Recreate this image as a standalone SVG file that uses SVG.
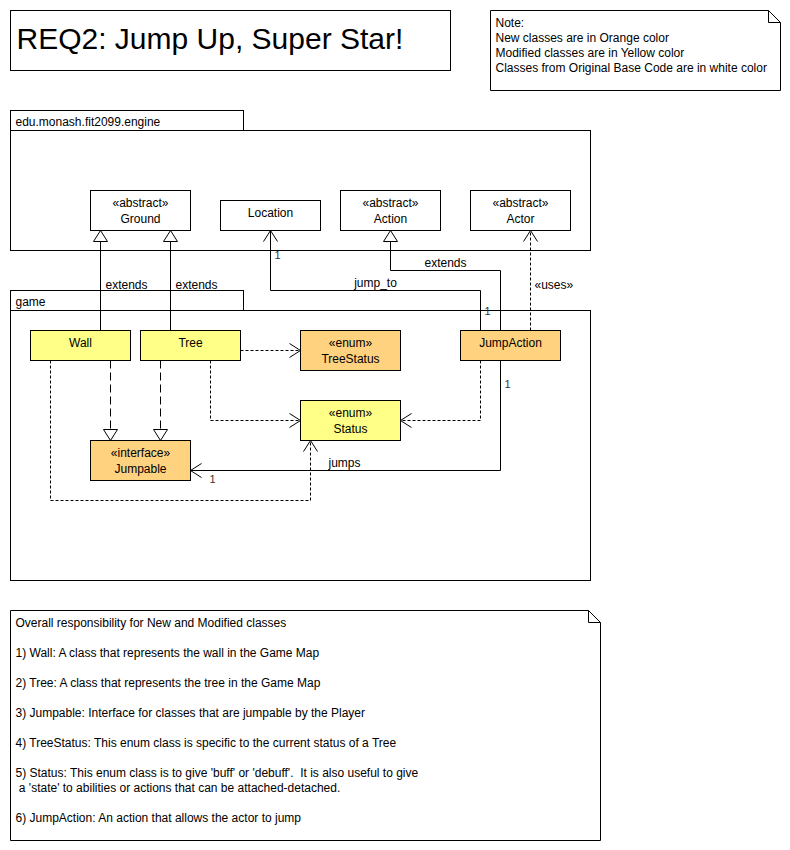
<svg xmlns="http://www.w3.org/2000/svg" width="790" height="850" viewBox="0 0 790 850">
<style>
text{font-family:"Liberation Sans",Arial,Helvetica,sans-serif;font-size:12px;fill:#000}
.c{text-anchor:middle}
.box{fill:#fff;stroke:#000;stroke-width:1}
.mod{fill:#ffff88;stroke:#000;stroke-width:1}
.new{fill:#ffd280;stroke:#000;stroke-width:1}
.ln{fill:none;stroke:#000;stroke-width:1}
.dot{fill:none;stroke:#000;stroke-width:1;stroke-dasharray:3 2}
.dash{fill:none;stroke:#000;stroke-width:1;stroke-dasharray:8 4}
.sm{font-size:12px}
.m{font-size:11px;fill:#333}
</style>
<defs>
<marker id="open" markerUnits="userSpaceOnUse" markerWidth="14" markerHeight="18" viewBox="0 0 14 18" refX="12" refY="9" orient="auto">
<path d="M1,2 L12,9 L1,16" fill="none" stroke="#000" stroke-width="1"/>
</marker>
<marker id="tri" markerUnits="userSpaceOnUse" markerWidth="14" markerHeight="18" viewBox="0 0 14 18" refX="12" refY="9" orient="auto">
<path d="M1,2 L12,9 L1,16 Z" fill="#fff" stroke="#000" stroke-width="1"/>
</marker>
</defs>
<rect width="790" height="850" fill="#fff"/>
<g transform="translate(0.5,0.5)">
<g id="title">
<rect class="box" x="10" y="10" width="440" height="60"/>
<text x="16" y="48" style="font-size:30px">REQ2: Jump Up, Super Star!</text>
</g>
<g id="legend">
<path class="box" d="M490,10 H768 L780,22 V90 H490 Z"/>
<path class="ln" d="M768,10 V22 H780"/>
<text x="495" y="26">Note:</text>
<text x="495" y="41">New classes are in Orange color</text>
<text x="495" y="56">Modified classes are in Yellow color</text>
<text x="495" y="71">Classes from Original Base Code are in white color</text>
</g>
<g id="pkg-engine">
<rect class="box" x="10" y="110" width="233" height="20"/>
<rect class="box" x="10" y="130" width="580" height="120"/>
<text x="15" y="125">edu.monash.fit2099.engine</text>
</g>
<g id="pkg-game">
<rect class="box" x="10" y="290" width="233" height="20"/>
<rect class="box" x="10" y="310" width="580" height="270"/>
<text x="15" y="305">game</text>
</g>
<g id="connectors">
<path class="ln" d="M100,330 V230" marker-end="url(#tri)"/>
<text x="105" y="288">extends</text>
<path class="ln" d="M170,330 V230" marker-end="url(#tri)"/>
<text x="175" y="288">extends</text>
<path class="ln" d="M480,330 V290 H270 V230" marker-end="url(#open)"/>
<text x="375" y="286" class="c">jump_to</text>
<text x="274" y="258" class="m">1</text>
<text x="484" y="314" class="m">1</text>
<path class="ln" d="M500,330 V270 H390 V230" marker-end="url(#tri)"/>
<text x="445" y="266" class="c">extends</text>
<path class="dot" d="M530,330 V230" marker-end="url(#open)"/>
<text x="534" y="288">«uses»</text>
<path class="dot" d="M240,350 H300" marker-end="url(#open)"/>
<path class="dash" d="M110,360 V440" marker-end="url(#tri)"/>
<path class="dash" d="M160,360 V440" marker-end="url(#tri)"/>
<path class="dot" d="M210,360 V420 H300" marker-end="url(#open)"/>
<path class="dot" d="M50,360 V500 H310 V440" marker-end="url(#open)"/>
<path class="dot" d="M480,360 V420 H400" marker-end="url(#open)"/>
<path class="ln" d="M500,360 V470 H190" marker-end="url(#open)"/>
<text x="328" y="466">jumps</text>
<text x="504" y="387" class="m">1</text>
<text x="209" y="482" class="m">1</text>
</g>
<g id="Ground">
<rect class="box" x="90" y="190" width="100" height="40"/>
<text x="140" y="206" class="c">«abstract»</text>
<text x="140" y="222" class="c">Ground</text>
</g>
<g id="Location">
<rect class="box" x="220" y="200" width="100" height="30"/>
<text x="270" y="216" class="c">Location</text>
</g>
<g id="Action">
<rect class="box" x="340" y="190" width="100" height="40"/>
<text x="390" y="206" class="c">«abstract»</text>
<text x="390" y="222" class="c">Action</text>
</g>
<g id="Actor">
<rect class="box" x="470" y="190" width="100" height="40"/>
<text x="520" y="206" class="c">«abstract»</text>
<text x="520" y="222" class="c">Actor</text>
</g>
<g id="Wall">
<rect class="mod" x="30" y="330" width="100" height="30"/>
<text x="80" y="346" class="c">Wall</text>
</g>
<g id="Tree">
<rect class="mod" x="140" y="330" width="100" height="30"/>
<text x="190" y="346" class="c">Tree</text>
</g>
<g id="TreeStatus">
<rect class="new" x="300" y="330" width="100" height="40"/>
<text x="350" y="346" class="c">«enum»</text>
<text x="350" y="362" class="c">TreeStatus</text>
</g>
<g id="JumpAction">
<rect class="new" x="460" y="330" width="100" height="30"/>
<text x="510" y="346" class="c">JumpAction</text>
</g>
<g id="Status">
<rect class="mod" x="300" y="400" width="100" height="40"/>
<text x="350" y="416" class="c">«enum»</text>
<text x="350" y="432" class="c">Status</text>
</g>
<g id="Jumpable">
<rect class="new" x="90" y="440" width="100" height="40"/>
<text x="140" y="456" class="c">«interface»</text>
<text x="140" y="472" class="c">Jumpable</text>
</g>
<g id="responsibilities">
<path class="box" d="M10,610 H588 L600,622 V840 H10 Z"/>
<path class="ln" d="M588,610 V622 H600"/>
<text x="15" y="626" class="sm">Overall responsibility for New and Modified classes</text>
<text x="15" y="656" class="sm">1) Wall: A class that represents the wall in the Game Map</text>
<text x="15" y="686" class="sm">2) Tree: A class that represents the tree in the Game Map</text>
<text x="15" y="716" class="sm">3) Jumpable: Interface for classes that are jumpable by the Player</text>
<text x="15" y="746" class="sm">4) TreeStatus: This enum class is specific to the current status of a Tree</text>
<text x="15" y="776" class="sm" xml:space="preserve">5) Status: This enum class is to give 'buff' or 'debuff'.  It is also useful to give</text>
<text x="15" y="791" class="sm" xml:space="preserve"> a 'state' to abilities or actions that can be attached-detached.</text>
<text x="15" y="821" class="sm">6) JumpAction: An action that allows the actor to jump</text>
</g>
</g>
</svg>
